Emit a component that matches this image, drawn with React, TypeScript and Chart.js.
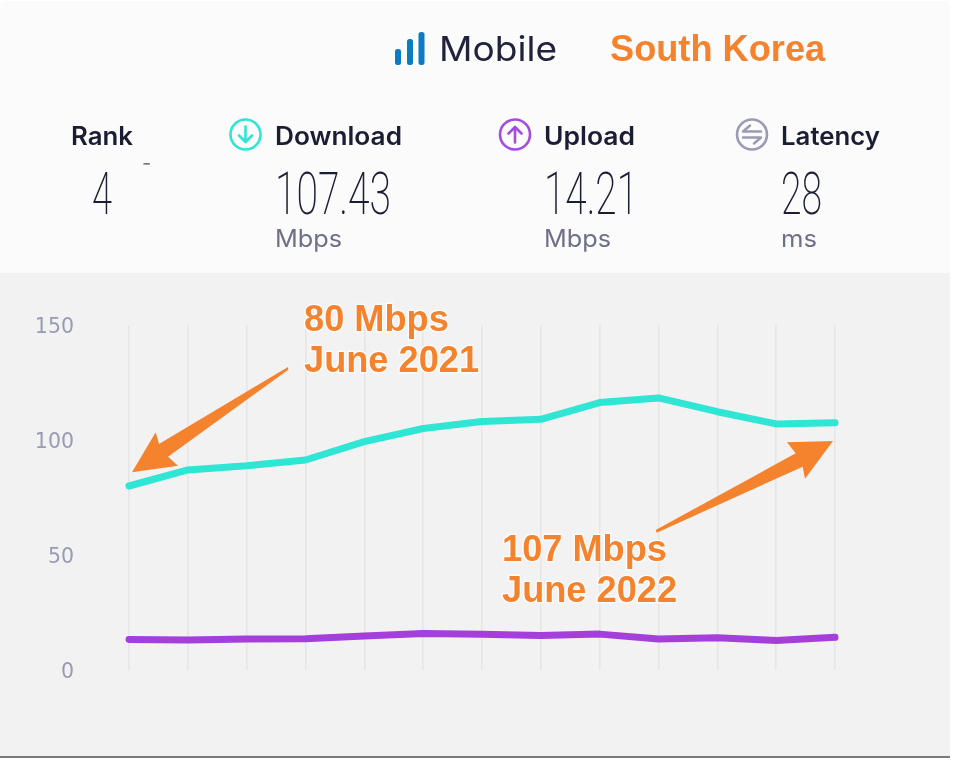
import React, { useEffect, useRef } from "react";
import { Chart, registerables } from "chart.js";

Chart.register(...registerables);

const months = ["Jun 2021", "Jul 2021", "Aug 2021", "Sep 2021", "Oct 2021", "Nov 2021", "Dec 2021", "Jan 2022", "Feb 2022", "Mar 2022", "Apr 2022", "May 2022", "Jun 2022"];
const download = [80, 87, 88.8, 91.3, 99.3, 105, 108, 109, 116.3, 118.3, 112.3, 107, 107.5];
const upload = [13.3, 13, 13.5, 13.6, 14.8, 15.9, 15.5, 15, 15.6, 13.5, 14, 12.8, 14.2];
const yTicks = [0, 50, 100, 150];

const UI = "Inter, 'Open Sans', sans-serif";
const ARIAL = "'Liberation Sans', Arial, sans-serif";
const ORANGE = "#f5822d";
const DARK = "#1b1d33";
const GREY = "#6f7086";

function Metric({ cx, x, label, labelW, color, value, unit, unitW, valueW, iconKind }: any) {
  const cy = 134.5;
  let glyph: any = null;
  if (iconKind === "down")
    glyph = <path d={`M${cx} ${cy - 8}V${cy + 7}M${cx - 6.5} ${cy + 1}L${cx} ${cy + 7.5}L${cx + 6.5} ${cy + 1}`} fill="none" stroke={color} strokeWidth={2.6} strokeLinecap="round" strokeLinejoin="round" />;
  if (iconKind === "up")
    glyph = <path d={`M${cx} ${cy + 8}V${cy - 7}M${cx - 6.5} ${cy - 1}L${cx} ${cy - 7.5}L${cx + 6.5} ${cy - 1}`} fill="none" stroke={color} strokeWidth={2.6} strokeLinecap="round" strokeLinejoin="round" />;
  if (iconKind === "both")
    glyph = <path d={`M${cx + 9} ${cy - 3}H${cx - 9}L${cx - 2} ${cy - 9}M${cx - 9} ${cy + 3}H${cx + 9}L${cx + 2} ${cy + 9}`} fill="none" stroke={color} strokeWidth={2.4} strokeLinecap="round" strokeLinejoin="round" />;
  return (
    <g>
      <circle cx={cx} cy={cy} r={15} fill="none" stroke={color} strokeWidth={2.6} />
      {glyph}
      <text x={x} y={144.5} fontFamily={UI} fontSize={25} fontWeight={600} fill={DARK} textLength={labelW} lengthAdjust="spacingAndGlyphs">{label}</text>
      <text x={x} y={214} fontFamily="Roboto, sans-serif" fontWeight={200} fontSize={59} fill={DARK} textLength={valueW} lengthAdjust="spacingAndGlyphs">{value}</text>
      <text x={x} y={246.5} fontFamily={UI} fontSize={24} fill={GREY} textLength={unitW} lengthAdjust="spacingAndGlyphs">{unit}</text>
    </g>
  );
}

function Note({ x, y, text }: any) {
  return (
    <text x={x} y={y} fontFamily={ARIAL} fontWeight={700} fontSize={36.2} fill={ORANGE} stroke="#ffffff" strokeWidth={2.5} strokeLinejoin="round" style={{ paintOrder: "stroke" }}>{text}</text>
  );
}

export default function App() {
  const ref = useRef<HTMLCanvasElement>(null);
  useEffect(() => {
    const chart = new Chart(ref.current!, {
      type: "line",
      data: {
        labels: months,
        datasets: [
          { label: "Download", data: download, borderColor: "#2ee6d3", borderWidth: 7, borderCapStyle: "round", borderJoinStyle: "round", pointRadius: 0, tension: 0, clip: false },
          { label: "Upload", data: upload, borderColor: "#a43fdb", borderWidth: 7, borderCapStyle: "round", borderJoinStyle: "round", pointRadius: 0, tension: 0, clip: false },
        ],
      },
      options: {
        animation: false,
        responsive: false,
        devicePixelRatio: 1,
        layout: { padding: { top: 325, right: 125, bottom: 96, left: 0 } },
        plugins: { legend: { display: false }, tooltip: { enabled: false }, title: { display: false } },
        scales: {
          x: {
            offset: false,
            grid: { color: "#e6e6e8", lineWidth: 1.6, drawTicks: false },
            border: { display: false },
            ticks: { display: false },
          },
          y: {
            min: 0,
            max: 150,
            afterBuildTicks: (s: any) => { s.ticks = yTicks.map((value) => ({ value })); },
            afterFit: (s: any) => { s.width = 129; },
            grid: { display: false, drawTicks: false },
            border: { display: false },
            ticks: { color: "#9a9bb3", font: { family: "'DejaVu Sans', sans-serif", size: 20.5 }, padding: 55, labelOffset: 3 },
          },
        },
      } as any,
    });
    return () => chart.destroy();
  }, []);

  return (
    <div style={{ position: "absolute", left: 0, top: 0, width: 960, height: 766, background: "#ffffff", overflow: "hidden" }}>
      <div style={{ position: "absolute", left: 0, top: 1, width: 950, height: 272, background: "#fbfbfc", borderRadius: "6px 6px 0 0" }} />
      <div style={{ position: "absolute", left: 0, top: 273, width: 950, height: 483, background: "#f2f2f2" }} />
      <div style={{ position: "absolute", left: 0, top: 756, width: 950, height: 2, background: "#7a7a7a" }} />
      <canvas ref={ref} width={960} height={766} style={{ position: "absolute", left: 0, top: 0, width: 960, height: 766 }} />
      <svg width={960} height={766} style={{ position: "absolute", left: 0, top: 0 }}>
        <g fill="#0b7bc6">
          <rect x={395} y={49} width={6} height={16} rx={2.5} />
          <rect x={407} y={39} width={6} height={26} rx={2.5} />
          <rect x={418.5} y={32} width={6} height={33} rx={2.5} />
        </g>
        <text x={439} y={61} fontFamily={UI} fontSize={34} fill="#20233a" textLength={118} lengthAdjust="spacingAndGlyphs">Mobile</text>
        <text x={610} y={61} fontFamily={ARIAL} fontWeight={700} fontSize={36.2} fill={ORANGE}>South Korea</text>

        <text x={71} y={144.5} fontFamily={UI} fontSize={25} fontWeight={600} fill={DARK} textLength={62} lengthAdjust="spacingAndGlyphs">Rank</text>
        <text x={92} y={214} fontFamily="Roboto, sans-serif" fontWeight={200} fontSize={59} fill={DARK} textLength={20} lengthAdjust="spacingAndGlyphs">4</text>
        <text x={142} y={170} fontFamily={UI} fontSize={20} fill={GREY}>-</text>

        <Metric cx={245.5} x={275} label="Download" labelW={127} color="#2ee6d3" value="107.43" unit="Mbps" unitW={67} valueW={116} iconKind="down" />
        <Metric cx={515} x={544} label="Upload" labelW={91} color="#a54ce0" value="14.21" unit="Mbps" unitW={67} valueW={94} iconKind="up" />
        <Metric cx={752} x={781} label="Latency" labelW={99} color="#9a9bb3" value="28" unit="ms" unitW={36} valueW={41} iconKind="both" />

        <g fill={ORANGE}>
          <polygon points="288,367 288.3,369.7 168,456.7 178,465.7 132,472.3 155.7,432.3 159,444" />
          <polygon points="833,441 787,442.3 795.7,453.3 655.7,530 656.7,532.7 802.7,466.7 805,478.7" />
        </g>
        <Note x={304} y={331} text="80 Mbps" />
        <Note x={304} y={372} text="June 2021" />
        <Note x={502} y={561} text="107 Mbps" />
        <Note x={502} y={602} text="June 2022" />
      </svg>
    </div>
  );
}
